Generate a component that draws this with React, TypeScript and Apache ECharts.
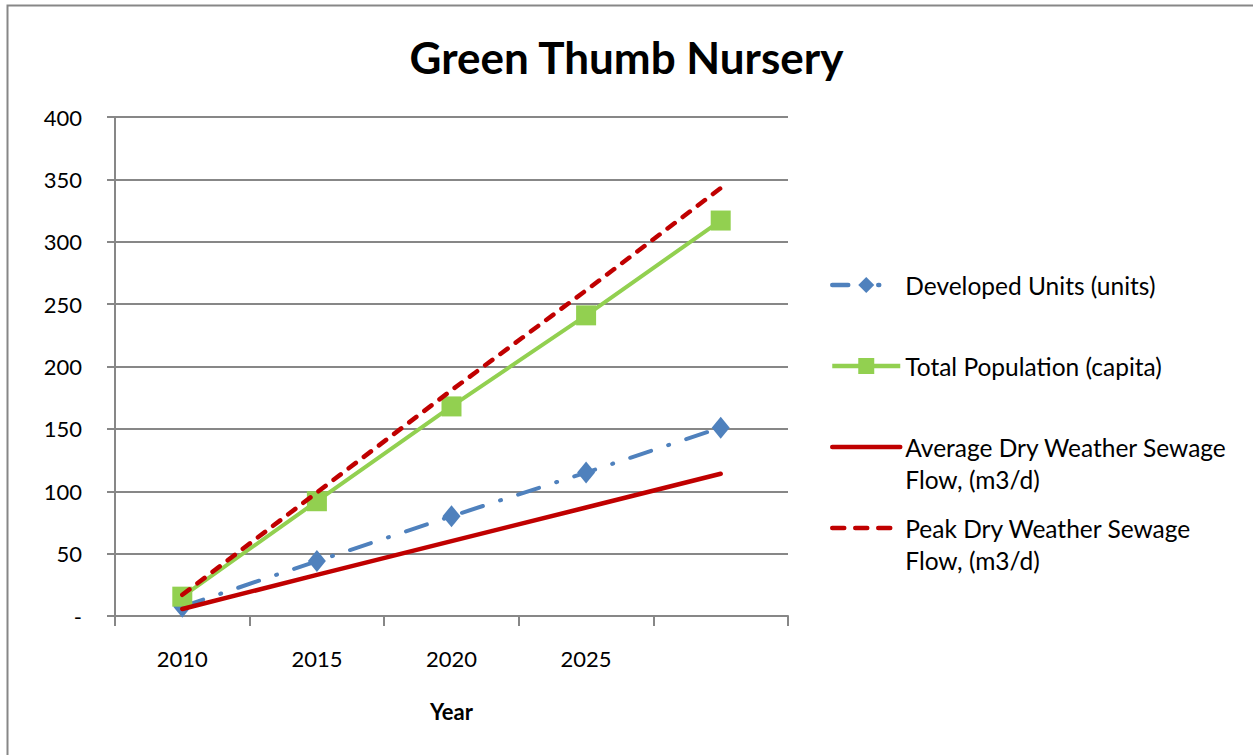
import React, { useEffect, useRef } from "react";
import * as echarts from "echarts";

const years = ["2010", "2015", "2020", "2025", ""];
const yTicks = [0, 50, 100, 150, 200, 250, 300, 350, 400];
const developedUnits = [7.5, 44, 80, 115, 151];
const totalPopulation = [15.5, 92, 168, 241, 317];
const avgDryFlow = [5.6, 33, 60, 87, 114];
const peakDryFlow = [17, 99, 181, 261, 343];

const seriesNames = [
  "Developed Units (units)",
  "Total Population (capita)",
  "Average Dry Weather Sewage\nFlow, (m3/d)",
  "Peak Dry Weather Sewage\nFlow, (m3/d)",
];

const FONT = "Lato";
const GRID_COLOR = "#878787";
const BLUE = "#4F81BD";
const GREEN = "#92D050";
const RED = "#C00000";

export default function App() {
  const ref = useRef<HTMLDivElement>(null);

  useEffect(() => {
    if (!ref.current) return;
    const chart = echarts.init(ref.current, undefined, { renderer: "svg" });

    const legendText = { fontFamily: FONT, fontSize: 24.5, color: "#000", lineHeight: 32 };
    const legendBase = {
      orient: "vertical" as const,
      left: 830,
      padding: 0,
      itemWidth: 68,
      itemHeight: 20,
      itemGap: 0,
      textStyle: legendText,
    };
    const firstLineAligned = (n: string) => "\n" + n;

    chart.setOption({
      animation: false,
      backgroundColor: "#fff",
      title: {
        text: "Green Thumb Nursery",
        left: "center",
        top: 30,
        textStyle: { fontFamily: FONT, fontSize: 44, fontWeight: "bold", color: "#000" },
      },
      graphic: [
        {
          type: "rect",
          shape: { x: 7.5, y: 5.5, width: 1400, height: 900 },
          style: { fill: "none", stroke: "#878787", lineWidth: 2 },
          silent: true,
        },
      ],
      legend: [
        {
          ...legendBase,
          top: 269,
          data: [seriesNames[0]],
          lineStyle: { width: 4.5, type: [16, 30, 1, 30], cap: "round" },
        },
        {
          ...legendBase,
          top: 350,
          data: [seriesNames[1]],
          lineStyle: { width: 4.5 },
        },
        {
          ...legendBase,
          top: 399,
          data: [seriesNames[2]],
          formatter: firstLineAligned,
          itemStyle: { opacity: 0 },
          lineStyle: { width: 4.5, cap: "round" },
        },
        {
          ...legendBase,
          top: 480,
          data: [seriesNames[3]],
          formatter: firstLineAligned,
          itemStyle: { opacity: 0 },
          lineStyle: { width: 4.5, type: [12, 11], cap: "round" },
        },
      ],
      grid: { left: 115, right: 465, top: 117, bottom: 139, containLabel: false },
      xAxis: {
        type: "category",
        data: years,
        boundaryGap: true,
        name: "Year",
        nameLocation: "middle",
        nameGap: 84,
        nameTextStyle: { fontFamily: FONT, fontSize: 22, fontWeight: "bold", color: "#000", verticalAlign: "top", lineHeight: 22 },
        axisLine: { lineStyle: { color: GRID_COLOR, width: 2 } },
        axisTick: { show: true, inside: false, length: 10, alignWithLabel: false, interval: 0, lineStyle: { color: GRID_COLOR, width: 2 } },
        axisLabel: { interval: 0, margin: 31, fontFamily: FONT, fontSize: 22, color: "#000", lineHeight: 22 },
        splitLine: { show: false },
      },
      yAxis: {
        type: "value",
        min: yTicks[0],
        max: yTicks[yTicks.length - 1],
        interval: 50,
        axisLine: { show: true, lineStyle: { color: GRID_COLOR, width: 2 } },
        axisTick: { show: true, length: 8, lineStyle: { color: GRID_COLOR, width: 2 } },
        axisLabel: {
          margin: 33,
          fontFamily: FONT,
          fontSize: 22,
          color: "#000",
          formatter: (v: number) => (v === 0 ? "-" : String(v)),
        },
        splitLine: { show: true, lineStyle: { color: GRID_COLOR, width: 2 } },
      },
      series: [
        {
          name: seriesNames[0],
          type: "line",
          data: developedUnits,
          color: BLUE,
          symbol: "diamond",
          symbolSize: [18, 22],
          showSymbol: true,
          lineStyle: { width: 4, type: [22, 18, 1, 18], cap: "round", color: BLUE },
          itemStyle: { color: BLUE },
          z: 2,
        },
        {
          name: seriesNames[1],
          type: "line",
          data: totalPopulation,
          color: GREEN,
          symbol: "rect",
          symbolSize: 20,
          showSymbol: true,
          lineStyle: { width: 4, color: GREEN },
          itemStyle: { color: GREEN },
          z: 3,
        },
        {
          name: seriesNames[2],
          type: "line",
          data: avgDryFlow,
          color: RED,
          symbol: "none",
          lineStyle: { width: 4.5, color: RED, cap: "round" },
          z: 4,
        },
        {
          name: seriesNames[3],
          type: "line",
          data: peakDryFlow,
          color: RED,
          symbol: "none",
          lineStyle: { width: 4.5, type: [9, 10], color: RED, cap: "round" },
          z: 5,
        },
      ],
    });

    return () => chart.dispose();
  }, []);

  return (
    <div
      ref={ref}
      style={{ width: 1253, height: 755, position: "absolute", left: 0, top: 0 }}
    />
  );
}
